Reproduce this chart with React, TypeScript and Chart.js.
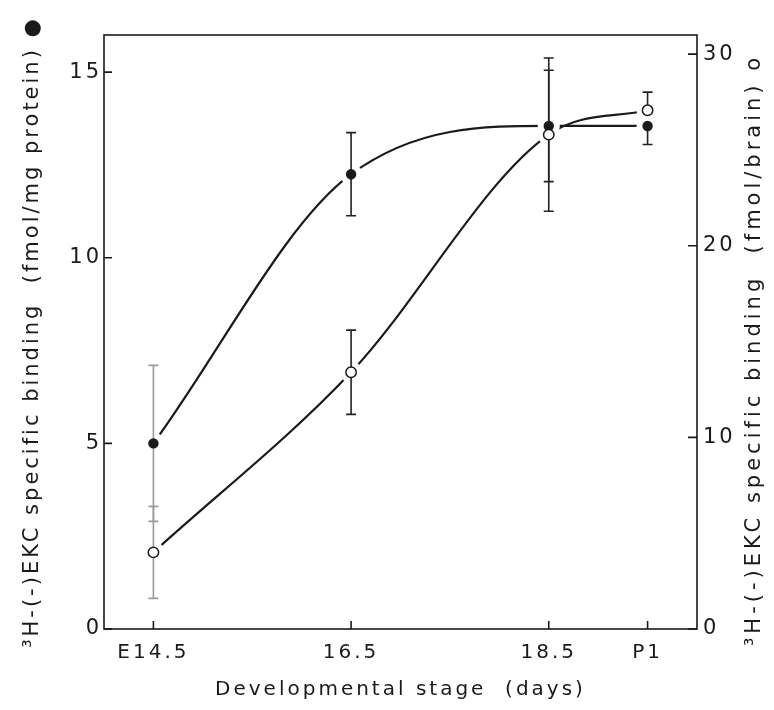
import React, { useEffect, useRef } from "react";
import { Chart, registerables } from "chart.js";

Chart.register(...registerables);

// ---- data ----
const stageValues = [14.5, 16.5, 18.5, 19.5];
const stageLabels = ["E14.5", "16.5", "18.5", "P1"];

// filled circles, left axis (fmol/mg protein)
const proteinBinding = [5.0, 12.25, 13.55, 13.55];
const proteinErrLow = [2.1, 1.12, 1.5, 0.5];
const proteinErrHigh = [2.1, 1.12, 1.5, 0];

// open circles, right axis (fmol/brain)
const brainBinding = [4.0, 13.4, 25.8, 27.07];
const brainErrLow = [2.4, 2.2, 4.0, 0];
const brainErrHigh = [2.4, 2.2, 4.0, 0.95];

const leftTicks = [0, 5, 10, 15];
const rightTicks = [0, 10, 20, 30];

const xTitle = "Developmental stage  (days)";
const leftTitle = "³H-(-)EKC specific binding  (fmol/mg protein) ●";
const rightTitle = "³H-(-)EKC specific binding  (fmol/brain) o";

const FONT = "'DejaVu Sans', sans-serif";
const INK = "#1a1a1a";
const SPACING = "3px";

const decor = {
  id: "decor",
  beforeUpdate(chart: any) {
    chart.ctx.letterSpacing = SPACING;
  },
  beforeDraw(chart: any) {
    chart.ctx.letterSpacing = SPACING;
  },
  afterDatasetsDraw(chart: any) {
    const ctx = chart.ctx;
    const sets = [
      { meta: chart.getDatasetMeta(0), scale: chart.scales.y, vals: proteinBinding, lo: proteinErrLow, hi: proteinErrHigh, filled: true },
      { meta: chart.getDatasetMeta(1), scale: chart.scales.y2, vals: brainBinding, lo: brainErrLow, hi: brainErrHigh, filled: false },
    ];
    ctx.save();
    // white halos that interrupt the curves around each marker
    ctx.fillStyle = "#ffffff";
    sets.forEach((s) =>
      s.meta.data.forEach((p: any) => {
        ctx.beginPath();
        ctx.arc(p.x, p.y, 11, 0, Math.PI * 2);
        ctx.fill();
      })
    );
    // error bars
    sets.forEach((s) =>
      s.meta.data.forEach((p: any, i: number) => {
        const yTop = s.scale.getPixelForValue(s.vals[i] + s.hi[i]);
        const yBot = s.scale.getPixelForValue(s.vals[i] - s.lo[i]);
        ctx.strokeStyle = i === 0 ? "#9a9a9a" : "#222";
        ctx.lineWidth = 1.6;
        ctx.beginPath();
        ctx.moveTo(p.x, yTop);
        ctx.lineTo(p.x, yBot);
        if (s.hi[i] > 0) {
          ctx.moveTo(p.x - 5, yTop);
          ctx.lineTo(p.x + 5, yTop);
        }
        if (s.lo[i] > 0) {
          ctx.moveTo(p.x - 5, yBot);
          ctx.lineTo(p.x + 5, yBot);
        }
        ctx.stroke();
      })
    );
    // markers
    sets.forEach((s) =>
      s.meta.data.forEach((p: any) => {
        ctx.beginPath();
        ctx.arc(p.x, p.y, 5.2, 0, Math.PI * 2);
        if (s.filled) {
          ctx.fillStyle = INK;
          ctx.fill();
        } else {
          ctx.fillStyle = "#fff";
          ctx.fill();
          ctx.strokeStyle = INK;
          ctx.lineWidth = 1.5;
          ctx.stroke();
        }
      })
    );
    ctx.restore();
  },
  afterDraw(chart: any) {
    const ctx = chart.ctx;
    const ca = chart.chartArea;
    ctx.save();
    ctx.strokeStyle = INK;
    ctx.lineWidth = 1.6;
    ctx.strokeRect(ca.left, ca.top, ca.right - ca.left, ca.bottom - ca.top);
    // inward tick marks
    ctx.beginPath();
    chart.scales.y.ticks.forEach((t: any) => {
      const y = chart.scales.y.getPixelForValue(t.value);
      ctx.moveTo(ca.left, y);
      ctx.lineTo(ca.left + 8, y);
    });
    chart.scales.y2.ticks.forEach((t: any) => {
      const y = chart.scales.y2.getPixelForValue(t.value);
      ctx.moveTo(ca.right, y);
      ctx.lineTo(ca.right - 9, y);
    });
    chart.scales.x.ticks.forEach((t: any) => {
      const x = chart.scales.x.getPixelForValue(t.value);
      ctx.moveTo(x, ca.bottom);
      ctx.lineTo(x, ca.bottom - 8);
    });
    ctx.stroke();
    // right axis title, reading bottom to top
    ctx.fillStyle = INK;
    ctx.font = `21px ${FONT}`;
    ctx.letterSpacing = "4px";
    ctx.textAlign = "center";
    ctx.textBaseline = "middle";
    ctx.translate(755, 350);
    ctx.rotate(-Math.PI / 2);
    ctx.fillText(rightTitle, 0, 0);
    ctx.restore();
  },
};

export default function App() {
  const ref = useRef<HTMLCanvasElement | null>(null);
  useEffect(() => {
    if (!ref.current) return;
    const chart = new Chart(ref.current, {
      type: "line",
      data: {
        datasets: [
          {
            data: stageValues.map((x, i) => ({ x, y: proteinBinding[i] })),
            yAxisID: "y",
            borderColor: INK,
            borderWidth: 2.2,
            pointRadius: 0,
            cubicInterpolationMode: "monotone",
            fill: false,
          },
          {
            data: stageValues.map((x, i) => ({ x, y: brainBinding[i] })),
            yAxisID: "y2",
            borderColor: INK,
            borderWidth: 2.2,
            pointRadius: 0,
            cubicInterpolationMode: "monotone",
            fill: false,
          },
        ],
      },
      options: {
        animation: false,
        responsive: true,
        maintainAspectRatio: false,
        layout: { padding: { top: 35, left: 0, right: 0, bottom: 0 } },
        plugins: { legend: { display: false }, tooltip: { enabled: false } },
        scales: {
          x: {
            type: "linear",
            min: 14,
            max: 20,
            afterBuildTicks: (s: any) => {
              s.ticks = stageValues.map((v) => ({ value: v }));
            },
            afterFit: (s: any) => {
              s.height = 81;
            },
            grid: { display: false, drawTicks: false },
            border: { display: false },
            ticks: {
              padding: 12,
              color: INK,
              font: { family: FONT, size: 20 },
              maxRotation: 0,
              autoSkip: false,
              callback: (v: any) => {
                const i = stageValues.indexOf(Number(v));
                return i >= 0 ? stageLabels[i] : "";
              },
            },
            title: {
              display: true,
              text: xTitle,
              color: INK,
              font: { family: FONT, size: 20 },
              padding: { top: 0, bottom: 8 },
            },
          },
          y: {
            type: "linear",
            position: "left",
            min: 0,
            max: 16,
            afterBuildTicks: (s: any) => {
              s.ticks = leftTicks.map((v) => ({ value: v }));
            },
            afterFit: (s: any) => {
              s.width = 104;
            },
            grid: { display: false, drawTicks: false },
            border: { display: false },
            ticks: { padding: 2, color: INK, font: { family: FONT, size: 21 } },
            title: {
              display: true,
              text: leftTitle,
              color: INK,
              font: { family: FONT, size: 21 },
              padding: { top: 20, bottom: 0 },
            },
          },
          y2: {
            type: "linear",
            position: "right",
            min: 0,
            max: 31,
            afterBuildTicks: (s: any) => {
              s.ticks = rightTicks.map((v) => ({ value: v }));
            },
            afterFit: (s: any) => {
              s.width = 77;
            },
            grid: { display: false, drawTicks: false },
            border: { display: false },
            ticks: { padding: 6, color: INK, font: { family: FONT, size: 21 } },
          },
        },
      },
      plugins: [decor],
    });
    return () => chart.destroy();
  }, []);
  return (
    <div style={{ position: "fixed", left: 0, top: 0, width: 774, height: 710, background: "#fff" }}>
      <canvas ref={ref} />
    </div>
  );
}
